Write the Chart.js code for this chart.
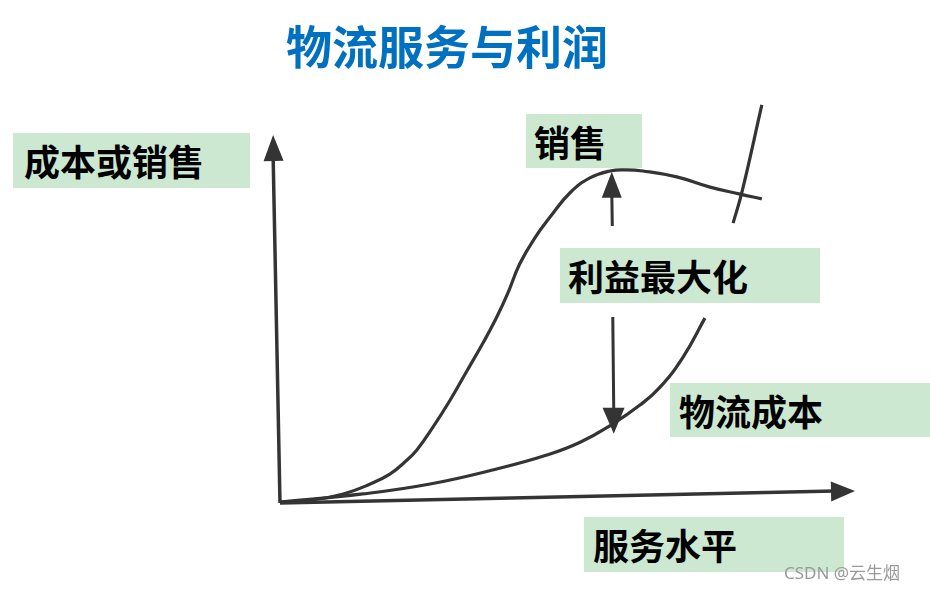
<!DOCTYPE html>
<html>
<head>
<meta charset="utf-8">
<script src="https://cdn.jsdelivr.net/npm/chart.js@4.4.0/dist/chart.umd.min.js"></script>
<style>
  html, body { margin: 0; padding: 0; background: #fff; }
  #wrap { position: relative; width: 930px; height: 589px; overflow: hidden; font-family: "Noto Sans CJK SC", "Noto Sans", sans-serif; }
  #chart { position: absolute; left: 0; top: 0; }
  .title { position: absolute; left: 0; width: 894px; top: 13px; text-align: center; color: #0070c0; font-size: 46px; font-weight: 700; line-height: 62px; }
  .tag { position: absolute; background: #cde8d0; color: #000; font-size: 36px; font-weight: 700; line-height: 54px; box-sizing: border-box; white-space: nowrap; }
  .mark { position: absolute; color: #9a9a9a; font-size: 17px; font-family: "Noto Sans", "Noto Sans CJK SC", sans-serif; }
</style>
</head>
<body>
<div id="wrap">
  <canvas id="chart" width="930" height="589"></canvas>
  <div class="title">物流服务与利润</div>
  <div class="tag" style="left:13px;top:133px;width:237px;height:55px;padding-left:11px;">成本或销售</div>
  <div class="tag" style="left:526px;top:114px;width:116px;height:54px;padding-left:8px;">销售</div>
  <div class="tag" style="left:560px;top:248px;width:260px;height:55px;padding-left:8px;">利益最大化</div>
  <div class="tag" style="left:670px;top:383px;width:260px;height:54px;padding-left:9px;">物流成本</div>
  <div class="tag" style="left:584px;top:517px;width:260px;height:55px;padding-left:9px;">服务水平</div>
  <div class="mark" style="left:784px;top:559px;">CSDN @云生烟</div>
</div>
<script>
    "use strict";

    // Sales curve (service level vs. revenue)
    const salesX = [0, 5.2, 11.0, 15.7, 19.1, 21.7, 23.8, 26.6, 29.6, 32.5, 35.3, 37.7, 39.7, 41.7, 44.3, 47.0, 50.4, 53.9, 57.4, 60.2, 63.1, 69.0, 74.8, 80.0, 83.8];
    const salesY = [0, 0.5, 2.2, 4.9, 7.6, 10.9, 14.2, 20.4, 27.8, 35.7, 43.3, 50.4, 57.2, 64.9, 71.9, 77.7, 84.2, 88.3, 90.2, 90.5, 90.2, 88.6, 85.8, 83.9, 82.6];

    // Logistics cost curve (null = break in the hand drawn stroke)
    const costX = [0, 14.4, 26.1, 37.7, 46.4, 52.2, 57.9, 62.6, 66.1, 70.1, 73.9, 76.3, 78.8, 80.3, 83.8];
    const costY = [0, 2.2, 4.9, 9.0, 12.8, 16.3, 21.3, 26.4, 31.3, 39.5, 50.1, null, 76.0, 84.2, 108.2];

    // Axes ends (slightly tilted, hand drawn)
    const xAxisEnd = [100, 3.0];
    const yAxisEnd = [-1.2, 100];

    // Profit maximisation double arrow: x, top tip, top gap, bottom gap, bottom tip
    const profitArrow = [57.7, 90.0, 75.2, 50.4, 18.6];

    const toPoints = (xs, ys) => xs.map((x, i) => ({ x: x, y: ys[i] }));

    const ink = '#343434';

    function arrowHead(ctx, tx, ty, fx, fy, len, half) {
        const dx = tx - fx, dy = ty - fy;
        const d = Math.sqrt(dx * dx + dy * dy);
        const ux = dx / d, uy = dy / d;
        const bx = tx - ux * len, by = ty - uy * len;
        ctx.beginPath();
        ctx.moveTo(tx, ty);
        ctx.lineTo(bx - uy * half, by + ux * half);
        ctx.lineTo(bx + uy * half, by - ux * half);
        ctx.closePath();
        ctx.fill();
    }

    const sketchPlugin = {
        id: 'sketch',
        afterDatasetsDraw(chart) {
            const ctx = chart.ctx;
            const xs = chart.scales.x, ys = chart.scales.y;
            const px = v => xs.getPixelForValue(v);
            const py = v => ys.getPixelForValue(v);
            ctx.save();
            ctx.strokeStyle = ink;
            ctx.fillStyle = ink;
            ctx.lineCap = 'butt';

            // axes
            const ox = px(0), oy = py(0);
            const xt = [px(xAxisEnd[0]), py(xAxisEnd[1])];
            const yt = [px(yAxisEnd[0]), py(yAxisEnd[1])];
            ctx.lineWidth = 3.5;
            ctx.beginPath();
            ctx.moveTo(ox, oy + 1);
            ctx.lineTo(xt[0] - 20, xt[1]);
            ctx.moveTo(ox, oy + 1);
            ctx.lineTo(yt[0], yt[1] + 20);
            ctx.stroke();
            arrowHead(ctx, xt[0], xt[1], ox, oy, 24, 10);
            arrowHead(ctx, yt[0], yt[1], ox, oy, 26, 10);

            // profit double arrow
            const ax = profitArrow[0];
            ctx.lineWidth = 3;
            ctx.beginPath();
            ctx.moveTo(px(ax), py(profitArrow[1]) + 20);
            ctx.lineTo(px(ax) + 0.5, py(profitArrow[2]));
            ctx.moveTo(px(ax) + 1, py(profitArrow[3]));
            ctx.lineTo(px(ax) + 2, py(profitArrow[4]) - 20);
            ctx.stroke();
            arrowHead(ctx, px(ax), py(profitArrow[1]), px(ax), py(profitArrow[2]), 26, 10);
            arrowHead(ctx, px(ax) + 2, py(profitArrow[4]), px(ax) + 1, py(profitArrow[3]), 26, 11);
            ctx.restore();
        }
    };

    const ctx = document.getElementById('chart').getContext('2d');
    const myChart = new Chart(ctx, {
        type: 'line',
        data: {
            datasets: [{
                label: '销售',
                data: toPoints(salesX, salesY),
                borderColor: ink,
                borderWidth: 3.2,
                pointRadius: 0,
                tension: 0.45,
                clip: false
            }, {
                label: '物流成本',
                data: toPoints(costX, costY),
                borderColor: ink,
                borderWidth: 3.2,
                pointRadius: 0,
                spanGaps: false,
                tension: 0.45,
                clip: false
            }]
        },
        options: {
            responsive: false,
            animation: false,
            layout: { padding: { left: 280, right: 75, top: 135, bottom: 87 } },
            plugins: {
                legend: { display: false },
                tooltip: { enabled: false }
            },
            scales: {
                x: { type: 'linear', min: 0, max: 100, display: false },
                y: { type: 'linear', min: 0, max: 100, display: false }
            }
        },
        plugins: [sketchPlugin]
    });
</script>
</body>
</html>
